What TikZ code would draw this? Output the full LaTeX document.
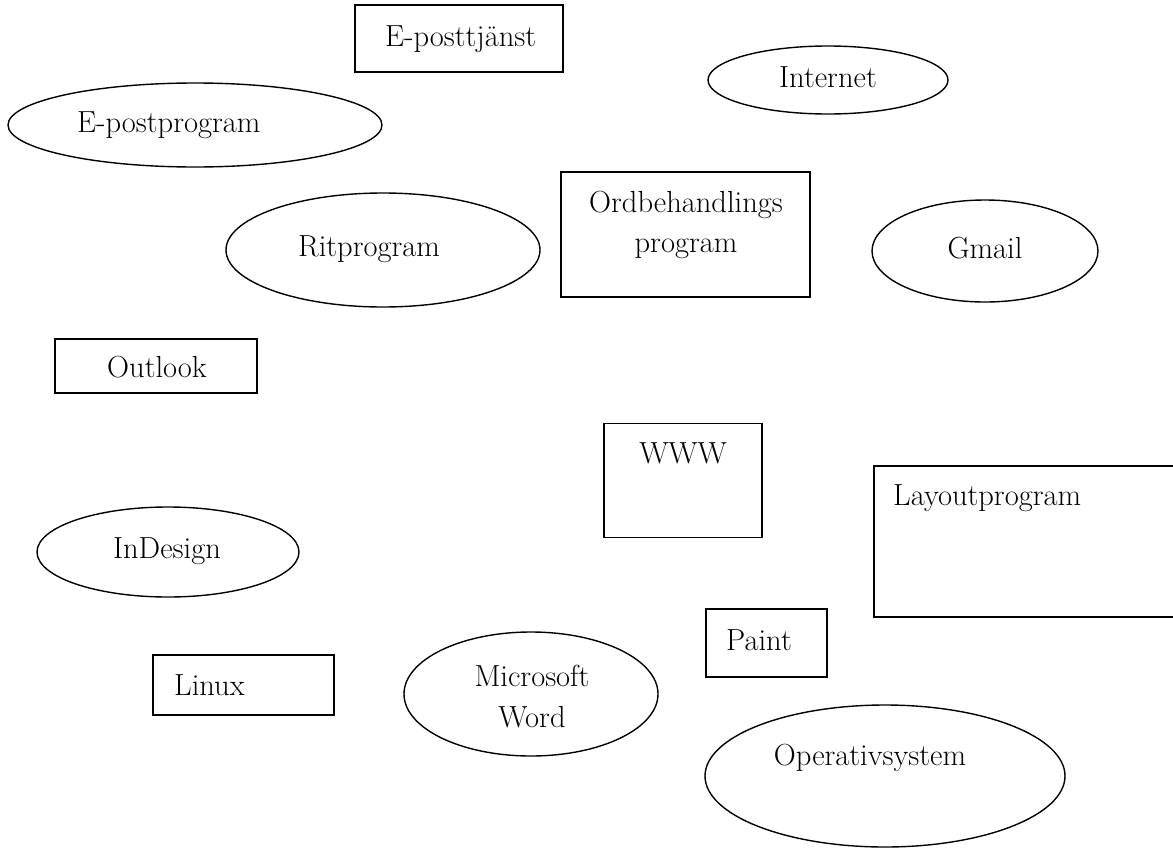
\documentclass[tikz,border=0pt]{standalone}
\usetikzlibrary{shapes.geometric}
\tikzset{
  shp/.style={draw=black, line width=1.4pt, inner sep=0pt},
  oval/.style={shp, ellipse},
  box/.style={shp, rectangle},
  lbl/.style={inner sep=0pt, font=\fontsize{30.5}{40}\selectfont},
}
\begin{document}
\begin{tikzpicture}[x=1pt,y=-1pt]
\useasboundingbox (0,0) rectangle (1173,849);
% rectangles
\node[box, minimum width=208pt, minimum height=67pt] (r1) at (459,38.5) {};
\node[box, minimum width=249pt, minimum height=125pt] (r2) at (685.5,234.5) {};
\node[box, minimum width=202pt, minimum height=54pt] (r3) at (156,366) {};
\node[box, minimum width=158pt, minimum height=114pt] (r4) at (683,480.5) {};
\node[box, minimum width=320pt, minimum height=151pt] (r5) at (1034,541.5) {};
\node[box, minimum width=121pt, minimum height=68pt] (r6) at (766.5,643) {};
\node[box, minimum width=181pt, minimum height=60pt] (r7) at (243.5,685) {};
% ellipses
\node[oval, minimum width=240pt, minimum height=68pt] (e1) at (828,80) {};
\node[oval, minimum width=374pt, minimum height=84pt] (e2) at (195,125) {};
\node[oval, minimum width=314pt, minimum height=114pt] (e3) at (383,250) {};
\node[oval, minimum width=226pt, minimum height=102pt] (e4) at (985,251) {};
\node[oval, minimum width=262pt, minimum height=90pt] (e5) at (168,552) {};
\node[oval, minimum width=254pt, minimum height=124pt] (e6) at (531,694) {};
\node[oval, minimum width=360pt, minimum height=142pt] (e7) at (885,776) {};
% texts
\node[lbl, anchor=base west] (t1) at (385,46) {E-posttjänst};
\node[lbl, anchor=base] (t2) at (828,87) {Internet};
\node[lbl, anchor=base west] (t3) at (77,132) {E-postprogram};
\node[lbl, anchor=base] (t4) at (686,212) {Ordbehandlings};
\node[lbl, anchor=base] (t5) at (686,252) {program};
\node[lbl, anchor=base] (t6) at (369,256) {Ritprogram};
\node[lbl, anchor=base] (t7) at (985,258) {Gmail};
\node[lbl, anchor=base] (t8) at (157,377) {Outlook};
\node[lbl, anchor=base] (t9) at (683,463) {WWW};
\node[lbl, anchor=base west] (t10) at (893,505) {Layoutprogram};
\node[lbl, anchor=base] (t11) at (167,558) {InDesign};
\node[lbl, anchor=base] (t12) at (759,650) {Paint};
\node[lbl, anchor=base west] (t13) at (174,695) {Linux};
\node[lbl, anchor=base] (t14) at (532,686) {Microsoft};
\node[lbl, anchor=base] (t15) at (532,727) {Word};
\node[lbl, anchor=base] (t16) at (870,765) {Operativsystem};
\end{tikzpicture}
\end{document}
